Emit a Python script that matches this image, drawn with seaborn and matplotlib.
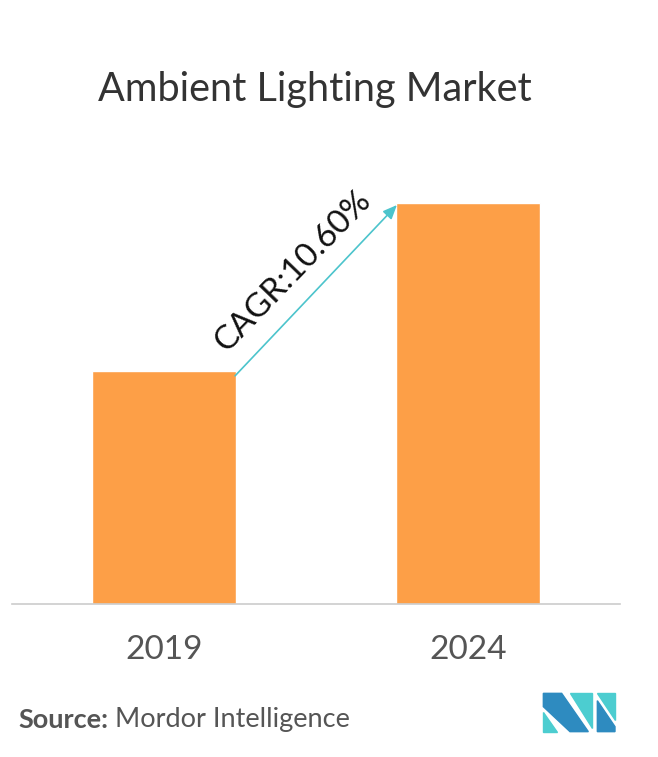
import matplotlib
matplotlib.use("Agg")
import matplotlib.pyplot as plt
from matplotlib.patches import Polygon
import seaborn as sns
import pandas as pd

years = ["2019", "2024"]
values = [1.0, 1.72]
cagr_label = "CAGR:10.60%"
title = "Ambient Lighting Market"

sns.set_theme(style="white")
plt.rcParams["font.family"] = ["Lato", "DejaVu Sans"]

W, H = 658, 757
fig = plt.figure(figsize=(W / 100, H / 100), dpi=100)
ax = fig.add_axes([12 / W, 1 - 604 / H, 608 / W, 444 / H])

df = pd.DataFrame({"year": years, "value": values})
bw = 0.475
sns.barplot(data=df, x="year", y="value", color="#fd9f47", saturation=1,
            width=bw, ax=ax)

ax.set_xlim(-0.5, 1.5)
ax.set_ylim(0, values[1] * 444 / 401)
for s in ["top", "right", "left"]:
    ax.spines[s].set_visible(False)
ax.spines["bottom"].set_color("#cccccc")
ax.spines["bottom"].set_linewidth(1.2)
ax.set_yticks([])
ax.set_xlabel("")
ax.set_ylabel("")
ax.tick_params(axis="x", length=0, pad=22, labelsize=24, labelcolor="#555555")

# CAGR arrow between the bar tops
x0, y0 = 0 + bw / 2 - 0.01, values[0] - 0.03
x1, y1 = 1 - bw / 2 + 0.01, values[1]
ax.annotate("", xy=(x1, y1), xytext=(x0, y0),
            arrowprops=dict(arrowstyle="-|>,head_length=0.7,head_width=0.3",
                            color="#4cc4cc", lw=1.2), annotation_clip=False)
ax.text((x0 + x1) / 2 - 0.075, (y0 + y1) / 2 + 0.085, cagr_label, rotation=46,
        ha="center", va="center", fontsize=24, color="#111111",
        rotation_mode="anchor")

fig.text(315 / W, 1 - 90 / H, title, ha="center", va="center", fontsize=28.5,
         color="#333333")
src = fig.text(18 / W, 1 - 720 / H, "Source:", ha="left", va="center",
               fontsize=19.5, color="#555555", fontweight="bold")
fig.canvas.draw()
bb = src.get_window_extent()
fig.text((bb.x1 + 7) / W, 1 - 720 / H, "Mordor Intelligence", ha="left",
         va="center", fontsize=19.5, color="#555555")


# logo
def px(pts):
    return [((520 + x / 3) / W, 1 - (680 + y / 3) / H) for x, y in pts]


dark, teal = "#2e8bc0", "#4ccdd0"
shapes = [
    ([(70, 40), (125, 40), (205, 155), (150, 155), (70, 80)], dark),
    ([(70, 95), (70, 155), (110, 155)], teal),
    ([(150, 40), (215, 40), (215, 145)], teal),
    ([(232, 40), (285, 40), (285, 120)], teal),
    ([(232, 62), (285, 140), (285, 155), (232, 155)], dark),
]
for pts, c in shapes:
    fig.patches.append(Polygon(px(pts), closed=True, color=c,
                               transform=fig.transFigure))

fig.savefig("out.png", dpi=100)
